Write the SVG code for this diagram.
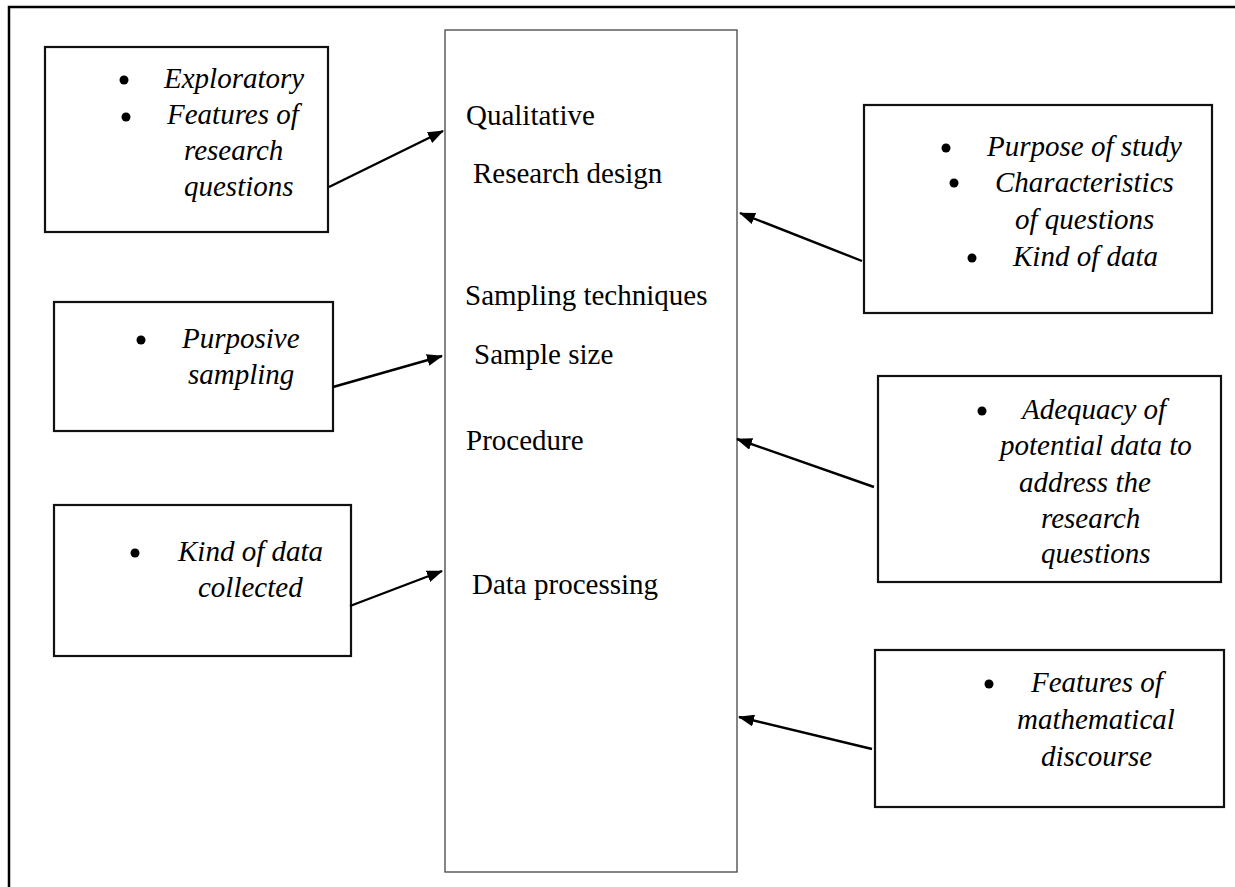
<svg xmlns="http://www.w3.org/2000/svg" width="1235" height="887" viewBox="0 0 1235 887">
  <style>
    .page { fill: #ffffff; }
    .frame { fill: none; stroke: #000000; stroke-width: 2.5; }
    .box { fill: #ffffff; stroke: #111111; stroke-width: 2.2; }
    .main { fill: #ffffff; stroke: #444444; stroke-width: 1.3; }
    .lbl { font-family: "Liberation Serif", "Times New Roman", serif; font-size: 29px; fill: #000000; }
    .it { font-family: "Liberation Serif", "Times New Roman", serif; font-size: 29px; font-style: italic; fill: #000000; }
    .dot { fill: #000000; }
    .conn { fill: none; stroke: #000000; stroke-width: 2.4; marker-end: url(#head); }
  </style>
  <defs>
    <marker id="head" markerUnits="userSpaceOnUse" markerWidth="16" markerHeight="12" refX="15" refY="6" orient="auto">
      <path d="M0,0 L16,6 L0,12 Z" fill="#000000"/>
    </marker>
  </defs>

  <rect class="page" x="0" y="0" width="1235" height="887"/>

  <!-- page frame: top and left rules -->
  <path class="frame" d="M9,887 L9,7 L1235,7"/>

  <!-- central column -->
  <g id="main">
    <rect class="main" x="445" y="30" width="292" height="842"/>
    <text class="lbl" x="466" y="125">Qualitative</text>
    <text class="lbl" x="473" y="183">Research design</text>
    <text class="lbl" x="465" y="305">Sampling techniques</text>
    <text class="lbl" x="474" y="364">Sample size</text>
    <text class="lbl" x="466" y="450">Procedure</text>
    <text class="lbl" x="472" y="594">Data processing</text>
  </g>

  <!-- left boxes -->
  <g id="design-reasons">
    <rect class="box" x="45" y="47" width="283" height="185"/>
    <circle class="dot" cx="124" cy="80" r="4.5"/>
    <text class="it" x="164" y="88">Exploratory</text>
    <circle class="dot" cx="126" cy="117" r="4.5"/>
    <text class="it" x="167" y="124">Features of</text>
    <text class="it" x="184" y="160">research</text>
    <text class="it" x="184" y="196">questions</text>
  </g>

  <g id="sampling-reasons">
    <rect class="box" x="54" y="302" width="279" height="129"/>
    <circle class="dot" cx="141" cy="340" r="4.5"/>
    <text class="it" x="182" y="348">Purposive</text>
    <text class="it" x="188" y="384">sampling</text>
  </g>

  <g id="processing-reasons">
    <rect class="box" x="54" y="505" width="297" height="151"/>
    <circle class="dot" cx="135" cy="553" r="4.5"/>
    <text class="it" x="178" y="561">Kind of data</text>
    <text class="it" x="198" y="597">collected</text>
  </g>

  <!-- right boxes -->
  <g id="design-criteria">
    <rect class="box" x="864" y="105" width="348" height="208"/>
    <circle class="dot" cx="946" cy="148" r="4.5"/>
    <text class="it" x="987" y="156">Purpose of study</text>
    <circle class="dot" cx="954" cy="183" r="4.5"/>
    <text class="it" x="995" y="192">Characteristics</text>
    <text class="it" x="1015" y="229">of questions</text>
    <circle class="dot" cx="972" cy="258" r="4.5"/>
    <text class="it" x="1013" y="266">Kind of data</text>
  </g>

  <g id="procedure-criteria">
    <rect class="box" x="878" y="376" width="343" height="206"/>
    <circle class="dot" cx="982" cy="411" r="4.5"/>
    <text class="it" x="1022" y="419">Adequacy of</text>
    <text class="it" x="1000" y="455">potential data to</text>
    <text class="it" x="1019" y="492">address the</text>
    <text class="it" x="1041" y="528">research</text>
    <text class="it" x="1041" y="563">questions</text>
  </g>

  <g id="processing-criteria">
    <rect class="box" x="875" y="650" width="349" height="157"/>
    <circle class="dot" cx="989" cy="684" r="4.5"/>
    <text class="it" x="1031" y="692">Features of</text>
    <text class="it" x="1017" y="729">mathematical</text>
    <text class="it" x="1041" y="766">discourse</text>
  </g>

  <!-- connectors -->
  <g id="connectors">
    <line class="conn" x1="329" y1="187" x2="443" y2="131"/>
    <line class="conn" x1="333" y1="387" x2="442" y2="356"/>
    <line class="conn" x1="350" y1="606" x2="442" y2="571"/>
    <line class="conn" x1="862" y1="261" x2="740" y2="213"/>
    <line class="conn" x1="874" y1="487" x2="737" y2="439"/>
    <line class="conn" x1="872" y1="749" x2="739" y2="717"/>
  </g>
</svg>
